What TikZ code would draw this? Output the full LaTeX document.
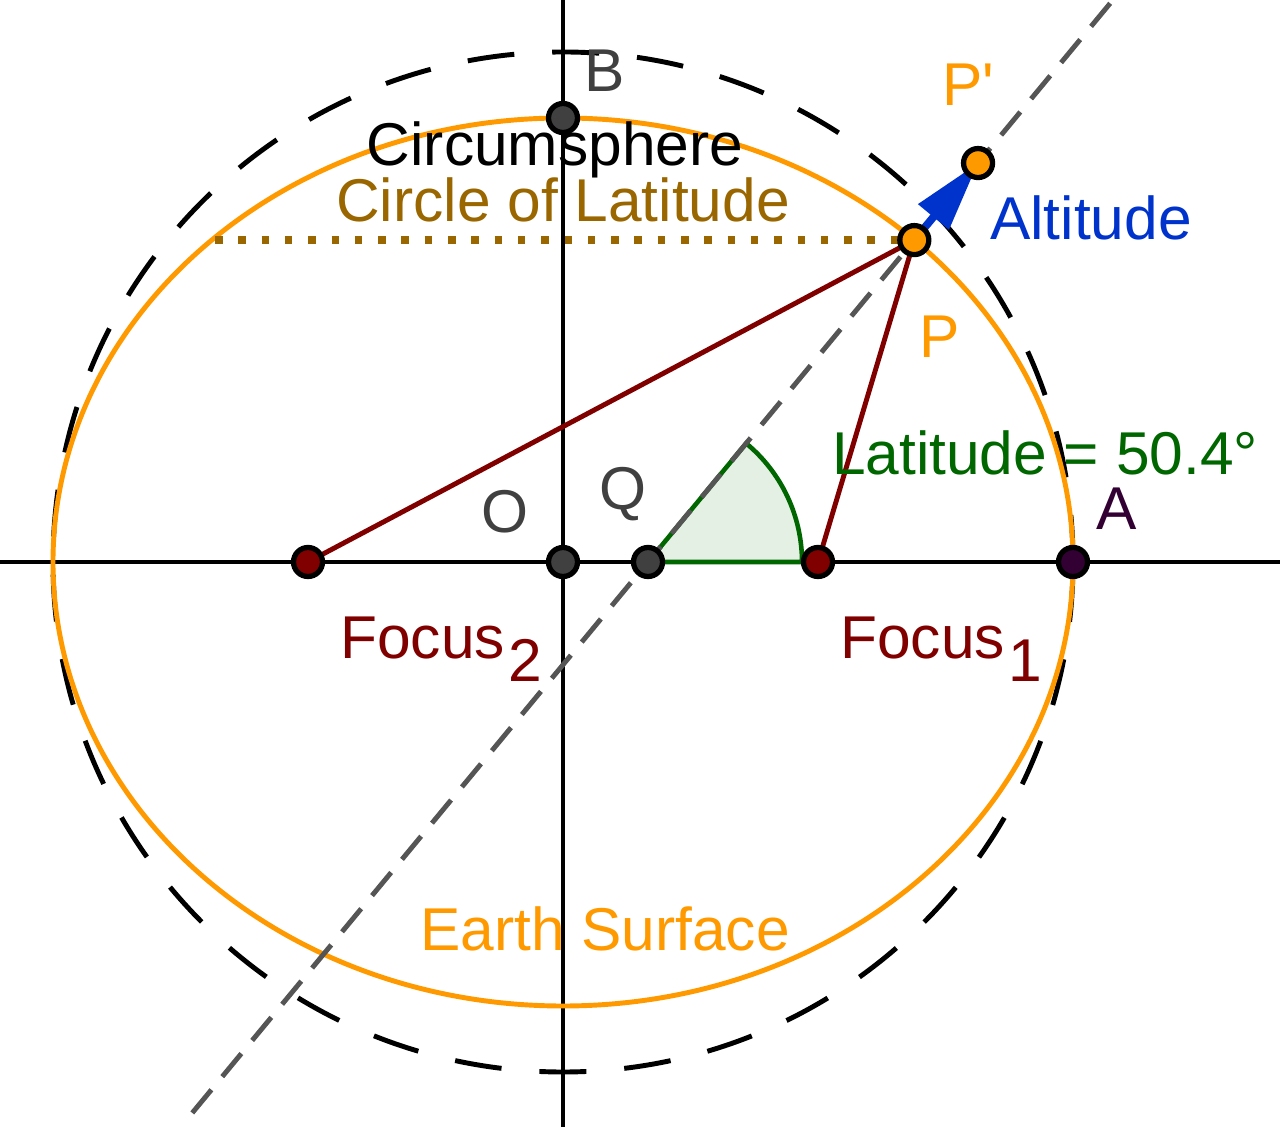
\documentclass[tikz,border=0pt]{standalone}
\usepackage{fontspec}
\setmainfont{Liberation Sans}
\usepackage{tikz}
\usetikzlibrary{arrows.meta, calc}
\definecolor{earthorange}{RGB}{255,153,0}
\definecolor{latbrown}{RGB}{153,102,0}
\definecolor{focusred}{RGB}{128,0,0}
\definecolor{latgreen}{RGB}{0,102,0}
\definecolor{altblue}{RGB}{0,51,204}
\definecolor{ptgray}{RGB}{64,64,64}
\definecolor{normalgray}{RGB}{85,85,85}
\definecolor{apurple}{RGB}{51,0,51}

\begin{document}
\begin{tikzpicture}[
  lbl/.style={font=\fontsize{17.2}{20}\selectfont, inner sep=0pt, anchor=base},
  pt/.style={draw=black, line width=1.5pt},
  axis/.style={line width=1.3pt}
]
\useasboundingbox (-5.63,-5.65) rectangle (7.17,5.62);

% Points of the construction
\coordinate (O) at (0,0);
\coordinate (A) at (5.1,0);
\coordinate (B) at (0,4.44);
\coordinate (F1) at (2.55,0);
\coordinate (F2) at (-2.55,0);
\coordinate (P) at (3.513,3.219);
\coordinate (Pw) at (-3.48,3.219);
\coordinate (Q) at (0.85,0);
\coordinate (Pp) at ($(P)+(50.4:1)$);
\coordinate (nlo) at ($(Q)+(230.4:7.15)$);
\coordinate (nhi) at ($(Q)+(50.4:7.3)$);
\coordinate (xl) at (-5.63,0);
\coordinate (xr) at (7.17,0);
\coordinate (yb) at (0,-5.65);
\coordinate (yt) at (0,5.62);

% Circumsphere
\draw[line width=1.4pt, dash pattern=on 0.47cm off 0.38cm] (O) circle[radius=5.1];

% Axes
\draw[axis] (xl) -- (xr);
\draw[axis] (yb) -- (yt);

% Earth surface
\draw[earthorange, line width=1.4pt] (O) ellipse[x radius=5.1, y radius=4.44];

% Latitude angle
\draw[latgreen, line width=1.3pt, fill=latgreen!10] (Q) -- ++(0:1.54)
  arc[start angle=0, end angle=50.4, radius=1.54] -- cycle;

% Normal through P
\draw[normalgray, line width=1.4pt, dash pattern=on 0.3cm off 0.17cm] (nlo) -- (nhi);

% Circle of latitude
\draw[latbrown, line width=2.1pt, dash pattern=on 0.075cm off 0.158cm] (Pw) -- (P);

% Focal radii
\draw[focusred, line width=1.4pt] (F2) -- (P) -- (F1);

% Altitude
\draw[altblue, line width=2.2pt, -{Triangle[length=0.7cm,width=0.38cm]}] (P) -- (Pp);

% Dots
\foreach \p/\c in {F2/focusred, F1/focusred, O/ptgray, Q/ptgray, B/ptgray, A/apurple, P/earthorange, Pp/earthorange}
  \filldraw[pt, fill=\c] (\p) circle[radius=0.145];

% Labels
\node[lbl] (circum) at (-0.08,3.96) {Circumsphere};
\node[lbl, text=latbrown] (latcirc) at (0,3.40) {Circle of Latitude};
\node[lbl, text=earthorange] (surf) at (0.42,-3.88) {Earth Surface};
\node[lbl, text=altblue] (alt) at (5.28,3.22) {Altitude};
\node[lbl, text=latgreen] (latval) at (4.82,0.87) {Latitude = 50.4°};
\node[lbl, text=apurple] (lblA) at (5.54,0.32) {A};
\node[lbl, text=ptgray] (lblB) at (0.42,4.70) {B};
\node[lbl, text=ptgray] (lblO) at (-0.58,0.29) {O};
\node[lbl, text=ptgray] (lblQ) at (0.60,0.52) {Q};
\node[lbl, text=earthorange] (lblP) at (3.77,2.04) {P};
\node[lbl, text=earthorange] (lblPp) at (4.05,4.56) {P\textquotesingle};
\node[lbl, text=focusred] (foc2) at (-1.22,-0.97) {Focus\kern0.03cm\raisebox{-0.23cm}{2}};
\node[lbl, text=focusred] (foc1) at (3.78,-0.97) {Focus\kern0.03cm\raisebox{-0.23cm}{1}};
\end{tikzpicture}
\end{document}
